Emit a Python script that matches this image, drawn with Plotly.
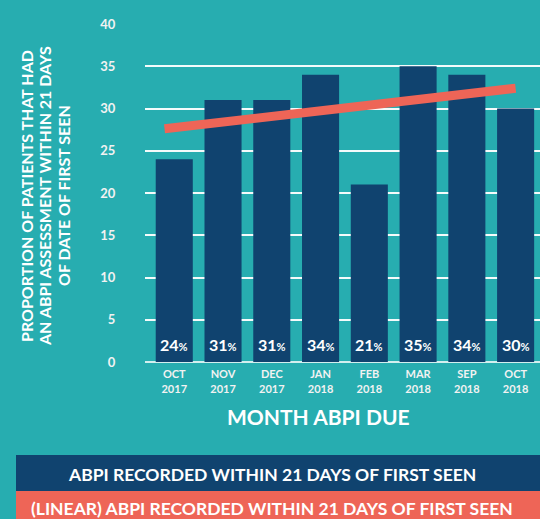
import plotly.graph_objects as go

months = ["OCT<br>2017", "NOV<br>2017", "DEC<br>2017", "JAN<br>2018",
          "FEB<br>2018", "MAR<br>2018", "SEP<br>2018", "OCT<br>2018"]
abpi_pct = [24, 31, 31, 34, 21, 35, 34, 30]
# linear trend end points
trend_x = [-0.2, 7]
trend_y = [27.6, 32.4]
y_ticks = [0, 5, 10, 15, 20, 25, 30, 35, 40]

BG = "#27ADB0"
NAVY = "#10436F"
CORAL = "#EE6557"
FONT = "Lato"

x_pos = list(range(len(months)))

fig = go.Figure()
fig.add_trace(go.Bar(
    x=x_pos, y=abpi_pct, width=0.76,
    marker=dict(color=NAVY, line=dict(width=0)),
    showlegend=False, hoverinfo="y",
))
fig.add_trace(go.Scatter(
    x=trend_x, y=trend_y, mode="lines",
    line=dict(color=CORAL, width=9),
    showlegend=False,
))

# value labels at the foot of each bar
for x, v in zip(x_pos, abpi_pct):
    fig.add_annotation(
        x=x, y=2.1, xref="x", yref="y", showarrow=False,
        text=f"<b>{v}</b><span style='font-size:11px'><b>%</b></span>",
        font=dict(family=FONT, size=16, color="white"),
        xanchor="center", yanchor="middle",
    )

fig.update_layout(
    width=540, height=519,
    paper_bgcolor=BG, plot_bgcolor=BG,
    margin=dict(l=145, r=0, t=24, b=157),
    font=dict(family=FONT, color="white"),
    xaxis=dict(
        range=[-0.6, 7.5], tickvals=x_pos, ticktext=[f"<b>{m}</b>" for m in months],
        tickfont=dict(size=11, color="#F2F2F2"), showgrid=False, zeroline=False,
        showline=False, ticks="outside", ticklen=2, tickcolor="rgba(0,0,0,0)",
    ),
    yaxis=dict(
        range=[0, 40], tickvals=y_ticks,
        ticktext=[f"<b>{v}</b>" for v in y_ticks],
        tickfont=dict(size=13, color="#F2F2F2"),
        showgrid=True, gridcolor="rgba(255,255,255,0.95)", gridwidth=2,
        zeroline=True, zerolinecolor="rgba(255,255,255,0.8)", zerolinewidth=2,
        ticks="outside", ticklen=26, tickcolor="rgba(0,0,0,0)",
    ),
)

def px_x(px):
    return (px - 145) / 395

def px_y(py):
    return (362 - py) / 338

# y-axis title, one annotation per line for tight line spacing
y_title = ["PROPORTION OF PATIENTS THAT HAD",
           "AN ABPI ASSESSMENT WITHIN 21 DAYS",
           "OF DATE OF FIRST SEEN"]
for line, cx in zip(y_title, [27, 45, 64]):
    fig.add_annotation(
        text=f"<b>{line}</b>", xref="paper", yref="paper",
        x=px_x(cx), y=px_y(196), textangle=-90, showarrow=False,
        font=dict(size=16, color="white"), xanchor="center", yanchor="middle",
    )

fig.add_annotation(
    text="<b>MONTH ABPI DUE</b>", xref="paper", yref="paper",
    x=px_x(318), y=px_y(416), showarrow=False,
    font=dict(size=21, color="white"), xanchor="center", yanchor="middle",
)

# legend bands at the bottom
fig.add_shape(type="rect", xref="paper", yref="paper",
              x0=px_x(16), x1=1.0, y0=px_y(491), y1=px_y(455),
              fillcolor=NAVY, line=dict(width=0), layer="below")
fig.add_shape(type="rect", xref="paper", yref="paper",
              x0=px_x(16), x1=1.0, y0=px_y(519), y1=px_y(491),
              fillcolor=CORAL, line=dict(width=0), layer="below")
fig.add_annotation(text="<b>ABPI RECORDED WITHIN 21 DAYS OF FIRST SEEN</b>",
                   xref="paper", yref="paper", x=px_x(272), y=px_y(474),
                   showarrow=False, font=dict(size=17.5, color="white"),
                   xanchor="center", yanchor="middle")
fig.add_annotation(text="<b>(LINEAR) ABPI RECORDED WITHIN 21 DAYS OF FIRST SEEN</b>",
                   xref="paper", yref="paper", x=px_x(272), y=px_y(508),
                   showarrow=False, font=dict(size=17.5, color="white"),
                   xanchor="center", yanchor="middle")

fig.write_html("out.html", config={"displayModeBar": False},
               post_script="document.body.style.margin='0';")
